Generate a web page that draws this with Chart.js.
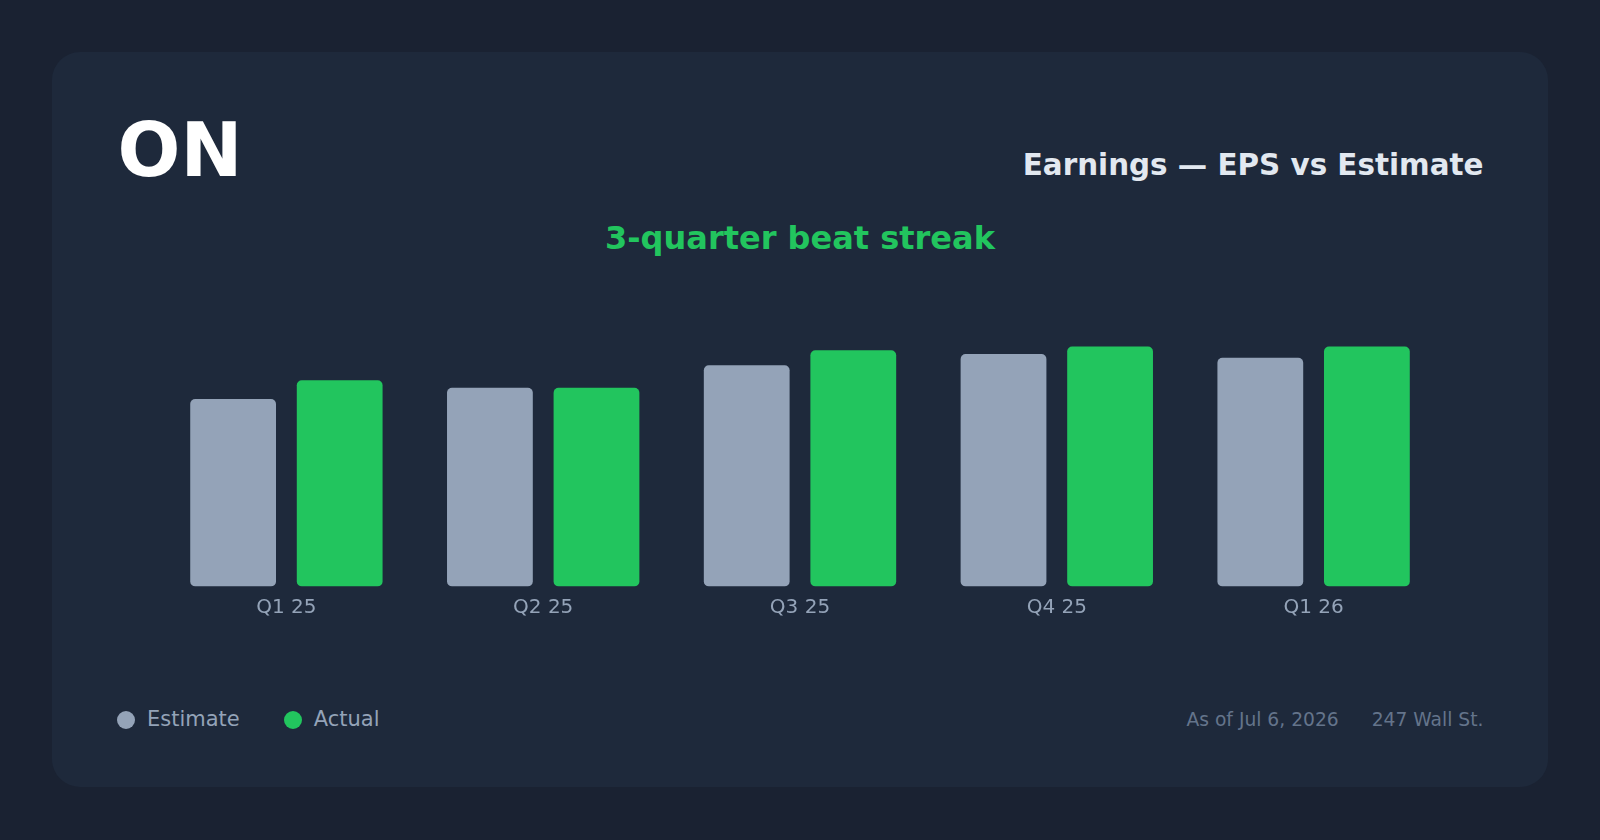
<!DOCTYPE html>
<html>
<head>
<meta charset="utf-8">
<title>ON Earnings</title>
<script src="https://cdn.jsdelivr.net/npm/chart.js@4.4.1/dist/chart.umd.min.js"></script>
<style>

	html, body {
		margin: 0;
		padding: 0;
		width: 1600px;
		height: 840px;
		background: #1a2232;
		font-family: "DejaVu Sans", sans-serif;
		overflow: hidden;
	}

	#card {
		position: absolute;
		left: 52px;
		top: 52px;
		width: 1496px;
		height: 735px;
		background: #1e293b;
		border-radius: 28px;
	}

	.txt {
		position: absolute;
		line-height: 1;
		white-space: nowrap;
	}

	#ticker {
		left: 65.5px;
		top: 61px;
		font-size: 74px;
		font-weight: bold;
		color: #ffffff;
	}

	#title {
		right: 64.5px;
		top: 99.1px;
		font-size: 29.4px;
		font-weight: bold;
		color: #e2e8f0;
	}

	#streak {
		left: 0;
		width: 1496px;
		text-align: center;
		top: 169.8px;
		font-size: 32px;
		font-weight: bold;
		color: #22c55e;
	}

	#legend {
		left: 65px;
		top: 657px;
		font-size: 21px;
		color: #94a3b8;
		display: flex;
		align-items: center;
	}

	#legend .item {
		display: flex;
		align-items: center;
		margin-right: 44px;
	}

	#legend .dot {
		width: 18px;
		height: 18px;
		border-radius: 50%;
		margin-right: 12px;
	}

	#footer {
		right: 64.5px;
		top: 658.5px;
		font-size: 18.7px;
		color: #64748b;
	}

	#footer span + span {
		margin-left: 33px;
	}

	#chartBox {
		position: absolute;
		left: 64px;
		top: 218px;
	}

</style>
</head>
<body>

<div id="card">
	<div class="txt" id="ticker">ON</div>
	<div class="txt" id="title">Earnings — EPS vs Estimate</div>
	<div class="txt" id="streak">3-quarter beat streak</div>
	<div id="chartBox"><canvas id="chart" width="1368" height="360"></canvas></div>
	<div class="txt" id="legend"></div>
	<div class="txt" id="footer"><span>As of Jul 6, 2026</span><span>247 Wall St.</span></div>
</div>

<script>

const quarters = [ 'Q1 25', 'Q2 25', 'Q3 25', 'Q4 25', 'Q1 26' ];
const estimateEps = [ 0.50, 0.53, 0.59, 0.62, 0.61 ];
const actualEps = [ 0.55, 0.53, 0.63, 0.64, 0.64 ];

const seriesNames = [ 'Estimate', 'Actual' ];
const seriesColours = [ '#94a3b8', '#22c55e' ];

Chart.defaults.font.family = '"DejaVu Sans", sans-serif';

// legend drawn as html, from the same series names / colours
const legend = document.getElementById( 'legend' );

seriesNames.forEach( ( name, i ) => {

	const item = document.createElement( 'div' );
	item.className = 'item';

	const dot = document.createElement( 'div' );
	dot.className = 'dot';
	dot.style.background = seriesColours[ i ];

	item.appendChild( dot );
	item.appendChild( document.createTextNode( name ) );
	legend.appendChild( item );

} );

const barStyle = {
	borderRadius: 5,
	borderSkipped: false,
	categoryPercentage: 0.83,
	barPercentage: 0.805
};

const config = {
	type: 'bar',
	data: {
		labels: quarters,
		datasets: [
			Object.assign( { label: seriesNames[ 0 ], data: estimateEps, backgroundColor: seriesColours[ 0 ] }, barStyle ),
			Object.assign( { label: seriesNames[ 1 ], data: actualEps, backgroundColor: seriesColours[ 1 ] }, barStyle )
		]
	},
	options: {
		responsive: false,
		animation: false,
		layout: {
			padding: { left: 42, right: 42, top: 16.6, bottom: 1.5 }
		},
		plugins: {
			legend: { display: false },
			tooltip: { enabled: false }
		},
		scales: {
			x: {
				grid: { display: false, drawTicks: false },
				border: { display: false },
				ticks: {
					color: '#94a3b8',
					padding: 9,
					font: { size: 20 }
				}
			},
			y: {
				display: false,
				min: 0,
				max: 0.8
			}
		}
	}
};

new Chart( document.getElementById( 'chart' ), config );

</script>
</body>
</html>
